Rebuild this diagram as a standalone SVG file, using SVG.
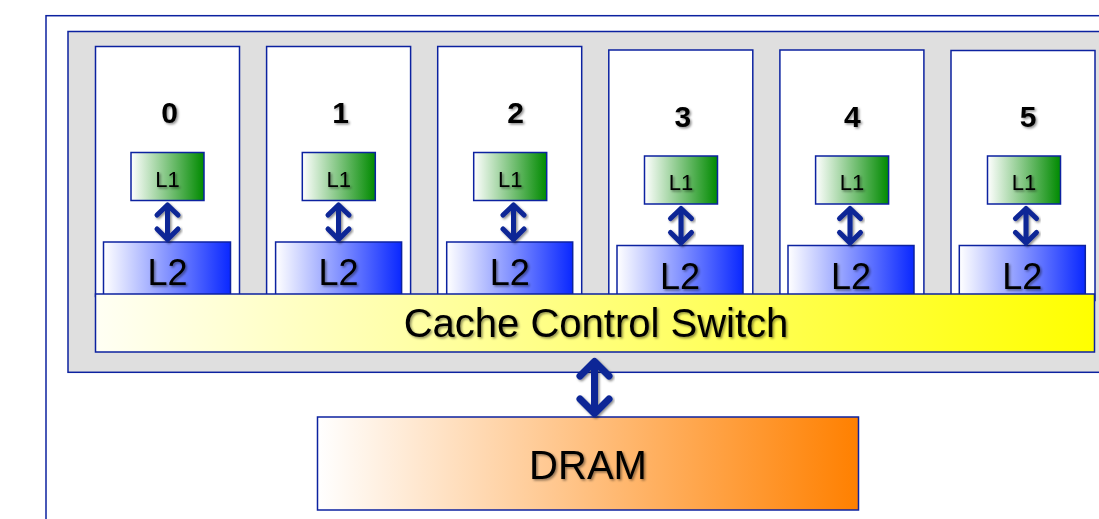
<svg xmlns="http://www.w3.org/2000/svg" width="1099" height="519" viewBox="0 0 1099 519">
  <defs>
    <linearGradient id="gL1" x1="0" y1="0" x2="1" y2="0">
      <stop offset="0" stop-color="#ffffff"/>
      <stop offset="1" stop-color="#008a00"/>
    </linearGradient>
    <linearGradient id="gL2" x1="0" y1="0" x2="1" y2="0">
      <stop offset="0" stop-color="#ffffff"/>
      <stop offset="1" stop-color="#0a28ff"/>
    </linearGradient>
    <linearGradient id="gSw" x1="0" y1="0" x2="1" y2="0">
      <stop offset="0" stop-color="#fffff4"/>
      <stop offset="1" stop-color="#ffff00"/>
    </linearGradient>
    <linearGradient id="gDram" x1="0" y1="0" x2="1" y2="0">
      <stop offset="0" stop-color="#ffffff"/>
      <stop offset="1" stop-color="#ff8000"/>
    </linearGradient>
    <filter id="sh" x="-20%" y="-20%" width="140%" height="140%">
      <feDropShadow dx="1.5" dy="1.5" stdDeviation="1" flood-color="#000" flood-opacity="0.45"/>
    </filter>
  </defs>
  <style>
    .frame { fill: none; stroke: #0c22a0; stroke-width: 1.5; }
    .panel { fill: #dfdfdf; stroke: #0c22a0; stroke-width: 1.5; }
    .core { fill: #ffffff; stroke: #0c22a0; stroke-width: 1.5; }
    .l1 { fill: url(#gL1); stroke: #0c22a0; stroke-width: 1.5; }
    .l2 { fill: url(#gL2); stroke: #0c22a0; stroke-width: 1.5; }
    .sw { fill: url(#gSw); stroke: #0c22a0; stroke-width: 1.5; }
    .dram { fill: url(#gDram); stroke: #0c22a0; stroke-width: 1.5; }
    text { font-family: "Liberation Sans", Arial, sans-serif; fill: #000; text-anchor: middle; filter: url(#sh); }
    .num { font-size: 30px; font-weight: bold; }
    .t1 { font-size: 22px; }
    .t2 { font-size: 36px; }
    .big { font-size: 40px; }
    .arr { fill: none; stroke: #0b2596; stroke-linecap: round; stroke-linejoin: round; filter: url(#sh); }
    .sm { stroke-width: 5; }
    .lg { stroke-width: 7; }
  </style>

  <g id="frame">
    <rect class="frame" x="46" y="15.7" width="1100" height="600"/>
  </g>
  <g id="chip">
    <rect class="panel" x="68" y="31.5" width="1100" height="340.8"/>
  </g>

  <g id="core0">
    <rect class="core" x="95.5" y="46.5" width="144" height="250"/>
    <text class="num" x="169.5" y="123">0</text>
    <rect class="l1" x="131" y="152.5" width="73" height="48"/>
    <text class="t1" x="167.5" y="186.5">L1</text>
    <rect class="l2" x="103.5" y="242" width="127" height="60"/>
    <text class="t2" x="167.5" y="285">L2</text>
  </g>
  <g id="core1">
    <rect class="core" x="266.6" y="46.5" width="144" height="250"/>
    <text class="num" x="340.6" y="123">1</text>
    <rect class="l1" x="302.3" y="152.5" width="73" height="48"/>
    <text class="t1" x="338.8" y="186.5">L1</text>
    <rect class="l2" x="275.6" y="242" width="126" height="60"/>
    <text class="t2" x="338.6" y="285">L2</text>
  </g>
  <g id="core2">
    <rect class="core" x="437.7" y="46.5" width="144" height="250"/>
    <text class="num" x="515.7" y="123">2</text>
    <rect class="l1" x="473.7" y="152.5" width="73" height="48"/>
    <text class="t1" x="510.2" y="186.5">L1</text>
    <rect class="l2" x="446.7" y="242" width="126" height="60"/>
    <text class="t2" x="509.7" y="285">L2</text>
  </g>
  <g id="core3">
    <rect class="core" x="608.8" y="50" width="144" height="250"/>
    <text class="num" x="682.8" y="127">3</text>
    <rect class="l1" x="644.5" y="156" width="73" height="48"/>
    <text class="t1" x="681" y="190">L1</text>
    <rect class="l2" x="617" y="245.5" width="126" height="60"/>
    <text class="t2" x="680" y="288.5">L2</text>
  </g>
  <g id="core4">
    <rect class="core" x="779.9" y="50" width="144" height="250"/>
    <text class="num" x="852.4" y="127">4</text>
    <rect class="l1" x="815.6" y="156" width="73" height="48"/>
    <text class="t1" x="852.1" y="190">L1</text>
    <rect class="l2" x="788" y="245.5" width="126" height="60"/>
    <text class="t2" x="851" y="288.5">L2</text>
  </g>
  <g id="core5">
    <rect class="core" x="951" y="50.5" width="144" height="250"/>
    <text class="num" x="1028" y="127">5</text>
    <rect class="l1" x="987.5" y="156" width="73" height="48"/>
    <text class="t1" x="1024" y="190">L1</text>
    <rect class="l2" x="959.3" y="245.5" width="126" height="60"/>
    <text class="t2" x="1022.3" y="288.5">L2</text>
  </g>

  <g id="switch">
    <rect class="sw" x="95.5" y="294" width="999" height="58"/>
    <text class="big" x="596" y="337">Cache Control Switch</text>
  </g>

  <g id="dram">
    <rect class="dram" x="317.5" y="417" width="541" height="93"/>
    <text class="big" x="588" y="479">DRAM</text>
  </g>

  <g id="connectors">
    <path class="arr sm" d="M167.5 205 V239 M157 215 L167.5 205 L178 215 M157 229 L167.5 239.5 L178 229"/>
    <path class="arr sm" d="M338.5 205 V239 M328 215 L338.5 205 L349 215 M328 229 L338.5 239.5 L349 229"/>
    <path class="arr sm" d="M513.5 205 V239 M503 215 L513.5 205 L524 215 M503 229 L513.5 239.5 L524 229"/>
    <path class="arr sm" d="M681 208.5 V242.5 M670.5 218.5 L681 208.5 L691.5 218.5 M670.5 232.5 L681 243 L691.5 232.5"/>
    <path class="arr sm" d="M850 208.5 V242.5 M839.5 218.5 L850 208.5 L860.5 218.5 M839.5 232.5 L850 243 L860.5 232.5"/>
    <path class="arr sm" d="M1026 208.5 V242.5 M1015.5 218.5 L1026 208.5 L1036.5 218.5 M1015.5 232.5 L1026 243 L1036.5 232.5"/>
    <path class="arr lg" d="M594.5 362 V413 M580 376 L594.5 361.5 L609 376 M580 399 L594.5 413.5 L609 399"/>
  </g>
</svg>
